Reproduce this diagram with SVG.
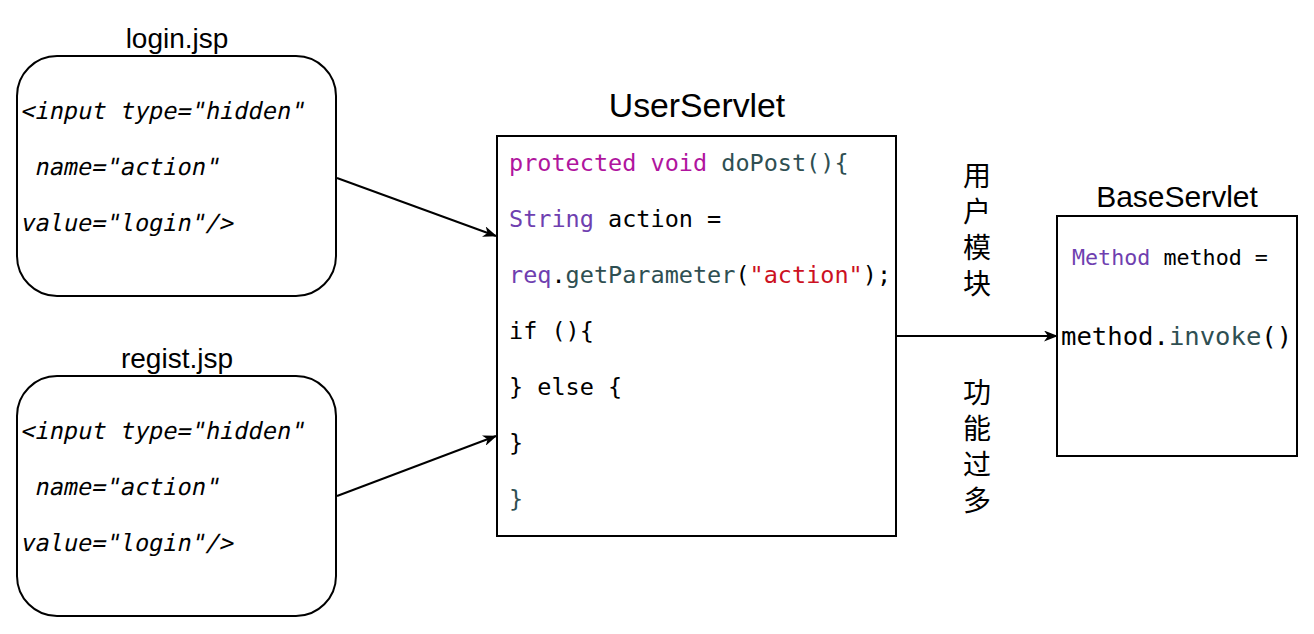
<svg xmlns="http://www.w3.org/2000/svg" width="1314" height="634" viewBox="0 0 1314 634">
<style>
.title{font-family:"Liberation Sans",Arial,sans-serif;fill:#000;text-anchor:middle}
.box{fill:#fff;stroke:#000;stroke-width:2}
.code{font-family:"DejaVu Sans Mono",monospace;fill:#000;white-space:pre}
.it{font-family:"DejaVu Sans Mono",monospace;font-size:23.6px;fill:#000;white-space:pre}
.kw{fill:#b0159e}
.ty{fill:#6f3fb0}
.fn{fill:#2f4f52}
.st{fill:#cc1122}
.cjk{font-family:"Noto Sans CJK SC",sans-serif;font-size:28px;fill:#000;writing-mode:tb;letter-spacing:8px}
.edge{stroke:#000;stroke-width:2;fill:none}
</style>
<defs>
<marker id="arr" markerWidth="14" markerHeight="11" refX="13" refY="5.5" orient="auto" markerUnits="userSpaceOnUse" viewBox="0 0 14 11">
<path d="M0,0 L14,5.5 L0,11 L4,5.5 Z" fill="#000"/>
</marker>
</defs>
<g id="login">
<text class="title" x="177" y="48" font-size="28">login.jsp</text>
<rect class="box" x="17" y="56" width="319" height="240" rx="40" ry="40"/>
<text class="it" xml:space="preserve" transform="translate(20,119) skewX(-12)">&lt;input type="hidden"</text>
<text class="it" xml:space="preserve" transform="translate(20,175) skewX(-12)"> name="action"</text>
<text class="it" xml:space="preserve" transform="translate(20,231) skewX(-12)">value="login"/&gt;</text>
</g>
<g id="regist">
<text class="title" x="177" y="368" font-size="28">regist.jsp</text>
<rect class="box" x="17" y="376" width="319" height="240" rx="40" ry="40"/>
<text class="it" xml:space="preserve" transform="translate(20,439) skewX(-12)">&lt;input type="hidden"</text>
<text class="it" xml:space="preserve" transform="translate(20,495) skewX(-12)"> name="action"</text>
<text class="it" xml:space="preserve" transform="translate(20,551) skewX(-12)">value="login"/&gt;</text>
</g>
<g id="userservlet">
<text class="title" x="697" y="117" font-size="33.8">UserServlet</text>
<rect class="box" x="497" y="136" width="399" height="400"/>
<g class="code" font-size="23.5">
<text x="509" y="171"><tspan class="kw">protected void</tspan> <tspan class="fn">doPost(){</tspan></text>
<text x="509" y="227"><tspan class="ty">String</tspan> action =</text>
<text x="509" y="283"><tspan class="ty">req</tspan>.<tspan class="fn">getParameter</tspan>(<tspan class="st">"action"</tspan>);</text>
<text x="509" y="339">if (){</text>
<text x="509" y="395">} else {</text>
<text x="509" y="451">}</text>
<text x="509" y="507" class="fn">}</text>
</g>
</g>
<g id="baseservlet">
<text class="title" x="1177" y="207" font-size="30">BaseServlet</text>
<rect class="box" x="1057" y="216" width="240" height="240"/>
<text class="code" x="1072" y="265" font-size="21.7"><tspan class="ty">Method</tspan> method =</text>
<text class="code" x="1061" y="345" font-size="25.6">method.<tspan class="fn">invoke</tspan>()</text>
</g>
<g id="label">
<text class="cjk" x="977" y="161">用户模块</text>
<text class="cjk" x="977" y="378">功能过多</text>
</g>
<g id="connectors">
<line class="edge" x1="337" y1="178" x2="496" y2="236" marker-end="url(#arr)"/>
<line class="edge" x1="337" y1="496" x2="496" y2="436" marker-end="url(#arr)"/>
<line class="edge" x1="896" y1="336" x2="1057" y2="336" marker-end="url(#arr)"/>
</g>
</svg>
